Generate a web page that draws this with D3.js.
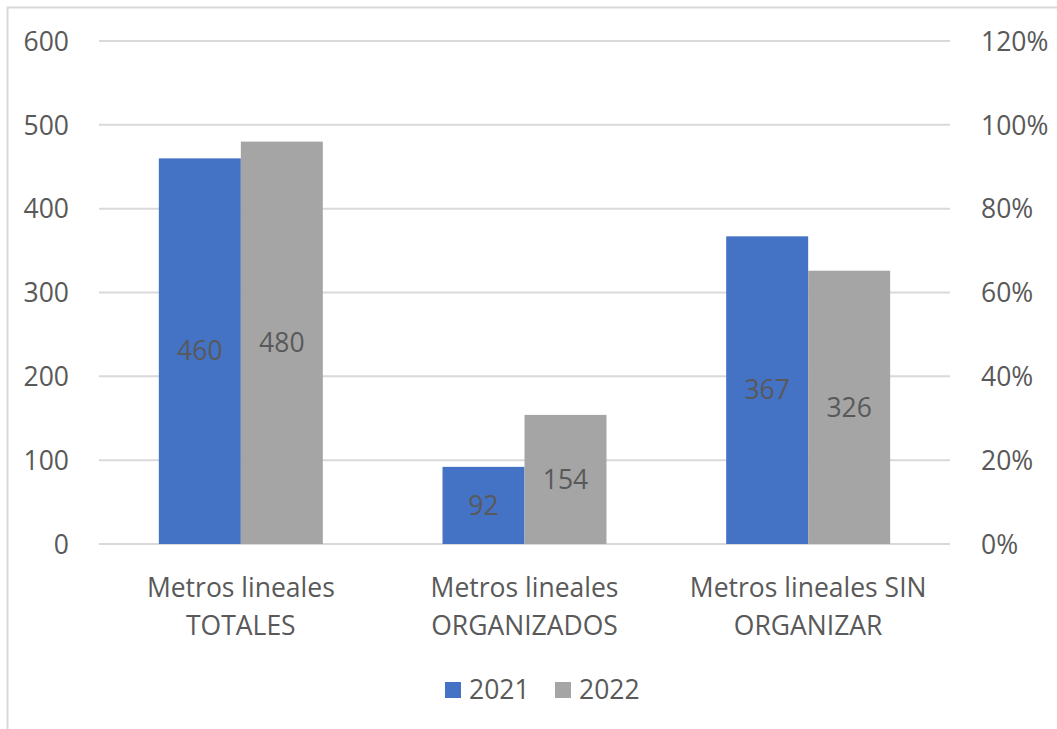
<!DOCTYPE html>
<html>
<head>
<meta charset="utf-8">
<script src="https://cdn.jsdelivr.net/npm/d3@7"></script>
<style>
  body { margin: 0; background: #fff; }
  text { font-family: "Open Sans", "Noto Sans", sans-serif; fill: #595959; }
</style>
</head>
<body>
<div id="chart"></div>
<script>
// *** data
var categories = [["Metros lineales", "TOTALES"], ["Metros lineales", "ORGANIZADOS"], ["Metros lineales SIN", "ORGANIZAR"]];
var seriesNames = ["2021", "2022"];
var values2021 = [460, 92, 367];
var values2022 = [480, 154, 326];
var leftTicks = [0, 100, 200, 300, 400, 500, 600];
var rightTicks = [0, 0.2, 0.4, 0.6, 0.8, 1.0, 1.2];
var colors = ["#4472C4", "#A5A5A5"];

var W = 1057, H = 729;
var fs = "26.5px";
var margin = {top: 41, right: 107, bottom: 185, left: 99},
    width = W - margin.left - margin.right,
    height = H - margin.top - margin.bottom;

var svg = d3.select("#chart").append("svg")
    .attr("width", W)
    .attr("height", H);

// chart border (right/bottom run off the picture)
svg.append("rect")
    .attr("x", 7.5).attr("y", 7.5)
    .attr("width", W + 20).attr("height", H + 20)
    .attr("fill", "none")
    .attr("stroke", "#D9D9D9")
    .attr("stroke-width", 2);

var g = svg.append("g")
    .attr("transform", "translate(" + margin.left + "," + margin.top + ")");

var x0 = d3.scaleBand().domain(d3.range(categories.length)).range([0, width]);
var x1 = d3.scaleBand().domain(seriesNames).range([0, x0.bandwidth()]).paddingOuter(0.73).paddingInner(0);
var y = d3.scaleLinear().domain([0, 600]).range([height, 0]);
var yR = d3.scaleLinear().domain([0, 1.2]).range([height, 0]);

// gridlines
g.selectAll(".grid").data(leftTicks).enter().append("line")
    .attr("x1", 0).attr("x2", width)
    .attr("y1", function(d) { return y(d); })
    .attr("y2", function(d) { return y(d); })
    .attr("stroke", "#D9D9D9")
    .attr("stroke-width", 2);

// left axis
var yAxis = d3.axisLeft(y).tickValues(leftTicks).tickSize(0).tickPadding(30);
g.append("g").call(yAxis)
    .call(function(s) { s.select(".domain").remove(); })
    .selectAll("text").style("font-size", fs).attr("fill", "#595959").attr("dy", "0.35em");

// right axis
var yAxisR = d3.axisRight(yR).tickValues(rightTicks).tickSize(0).tickPadding(31)
    .tickFormat(d3.format(".0%"));
g.append("g").attr("transform", "translate(" + width + ",0)").call(yAxisR)
    .call(function(s) { s.select(".domain").remove(); })
    .selectAll("text").style("font-size", fs).attr("fill", "#595959").attr("dy", "0.35em");

// bars
var rows = categories.map(function(c, i) {
    return [{name: "2021", v: values2021[i]}, {name: "2022", v: values2022[i]}];
});

var groups = g.selectAll(".cat").data(rows).enter().append("g")
    .attr("transform", function(d, i) { return "translate(" + x0(i) + ",0)"; });

groups.selectAll("rect").data(function(d) { return d; }).enter().append("rect")
    .attr("x", function(d) { return x1(d.name); })
    .attr("y", function(d) { return y(d.v); })
    .attr("width", x1.bandwidth())
    .attr("height", function(d) { return height - y(d.v); })
    .attr("fill", function(d, i) { return colors[i]; });

groups.selectAll(".lbl").data(function(d) { return d; }).enter().append("text")
    .attr("x", function(d) { return x1(d.name) + x1.bandwidth() / 2; })
    .attr("y", function(d) { return (y(d.v) + height) / 2; })
    .attr("dy", "0.35em")
    .attr("text-anchor", "middle")
    .style("font-size", fs)
    .attr("fill", "#404040")
    .text(function(d) { return d.v; });

// category labels
var catLbl = g.selectAll(".catlbl").data(categories).enter().append("text")
    .attr("text-anchor", "middle")
    .attr("transform", function(d, i) { return "translate(" + (x0(i) + x0.bandwidth() / 2) + "," + (height + 53) + ")"; })
    .style("font-size", fs);
catLbl.selectAll("tspan").data(function(d) { return d; }).enter().append("tspan")
    .attr("x", 0)
    .attr("dy", function(d, i) { return i === 0 ? 0 : 38; })
    .text(function(d) { return d; });

// legend
var legend = svg.append("g").attr("transform", "translate(445,690)");
var legX = [0, 110];
seriesNames.forEach(function(s, i) {
    legend.append("rect")
        .attr("x", legX[i]).attr("y", -8)
        .attr("width", 16).attr("height", 16)
        .attr("fill", colors[i]);
    legend.append("text")
        .attr("x", legX[i] + 24).attr("y", 0)
        .attr("dy", "0.35em")
        .style("font-size", fs)
        .text(s);
});
</script>
</body>
</html>
